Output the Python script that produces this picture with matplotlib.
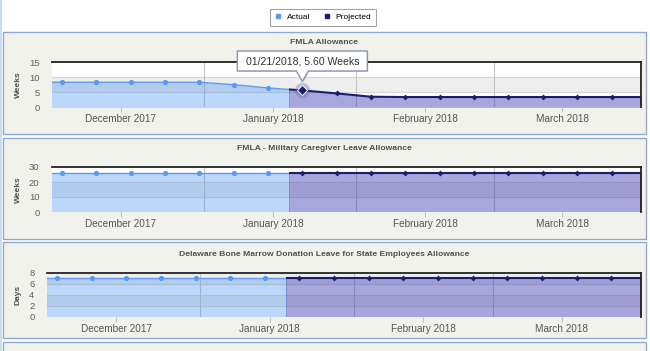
"""Leave allowance balances: actual vs projected, three stacked panels."""

import matplotlib

matplotlib.use("Agg")

import matplotlib.dates as mdates
import matplotlib.pyplot as plt
import numpy as np
import pandas as pd
from matplotlib.lines import Line2D
from matplotlib.patches import Polygon, Rectangle

plt.rcParams["font.family"] = ["Liberation Sans", "DejaVu Sans"]

W, H = 650, 351

# weekly balance snapshots (first and last fall just outside the visible window)
week_dates = [
    "2017-11-26", "2017-12-03", "2017-12-10", "2017-12-17", "2017-12-24",
    "2017-12-31", "2018-01-07", "2018-01-14", "2018-01-21", "2018-01-28",
    "2018-02-04", "2018-02-11", "2018-02-18", "2018-02-25", "2018-03-04",
    "2018-03-11", "2018-03-18", "2018-03-25", "2018-04-01",
]
fmla_weeks = [8.3, 8.3, 8.3, 8.3, 8.3, 8.3, 7.5, 6.4, 5.6, 4.6,
              3.5, 3.4, 3.4, 3.4, 3.4, 3.4, 3.4, 3.4, 3.4]
caregiver_weeks = [26, 26, 26, 26, 26, 26, 26, 26, 26, 26,
                   26, 26, 26, 26, 26, 26, 26, 26, 26]
bone_marrow_days = [7, 7, 7, 7, 7, 7, 7, 7, 7, 7,
                    7, 7, 7, 7, 7, 7, 7, 7, 7]

panel_titles = [
    "FMLA Allowance",
    "FMLA - Military Caregiver Leave Allowance",
    "Delaware Bone Marrow Donation Leave for State Employees Allowance",
]
y_units = ["Weeks", "Weeks", "Days"]
y_ticks = [[0, 5, 10, 15], [0, 10, 20, 30], [0, 2, 4, 6, 8]]

month_labels = ["December 2017", "January 2018", "February 2018", "March 2018"]
label_dates = ["2017-12-15", "2018-01-15", "2018-02-15", "2018-03-15"]
month_starts = ["2018-01-01", "2018-02-01", "2018-03-01"]
view_start, view_end = "2017-12-01", "2018-03-31"
split_date = "2018-01-18 06:00"   # actual -> projected
hover_date = "2018-01-21"
legend_labels = ["Actual", "Projected"]

# Colors
ACTUAL = "#5b9bef"
PROJ = "#1c1c6e"
PROJ_FILL = "#3d3db4"
PANEL_BG = "#f2f2ec"
PANEL_EDGE = "#8eaad0"
BAND = "#eeeeee"

# pixel boxes (x0, y0, x1, y1)
plot_boxes = [(52, 62, 641, 107.3), (52, 167, 641, 212), (47, 272.5, 641, 316.7)]
frame_boxes = [(3, 32, 646, 134), (3, 138, 646, 239), (3, 242, 646, 338), (3, 342, 646, 362)]
title_y = [43, 148, 254]


def px_axes(fig, box, **kw):
    x0, y0, x1, y1 = box
    return fig.add_axes([x0 / W, 1 - y1 / H, (x1 - x0) / W, (y1 - y0) / H], **kw)


fig = plt.figure(figsize=(W / 100, H / 100), dpi=100)

bg = fig.add_axes([0, 0, 1, 1])
bg.set_xlim(0, W)
bg.set_ylim(H, 0)
bg.axis("off")
bg.add_patch(Rectangle((0, 0), 2, H, facecolor="#c9dcf0", edgecolor="none"))
for x0, y0, x1, y1 in frame_boxes:
    bg.add_patch(Rectangle((x0, y0), x1 - x0, y1 - y0, facecolor=PANEL_BG,
                           edgecolor=PANEL_EDGE, linewidth=1))

x = mdates.date2num(pd.to_datetime(week_dates))
xmin = mdates.date2num(pd.Timestamp(view_start))
xmax = mdates.date2num(pd.Timestamp(view_end))
xsplit = mdates.date2num(pd.Timestamp(split_date))
xhover = mdates.date2num(pd.Timestamp(hover_date))
series = [fmla_weeks, caregiver_weeks, bone_marrow_days]

axes = []
for i, (vals, ticks) in enumerate(zip(series, y_ticks)):
    y = np.asarray(vals, dtype=float)
    ax = px_axes(fig, plot_boxes[i])
    ax.set_facecolor("white")
    ax.set_xlim(xmin, xmax)
    ax.set_ylim(ticks[0], ticks[-1])

    # alternating bands + grid
    for k, (lo, hi) in enumerate(zip(ticks[:-1], ticks[1:])):
        if k % 2 == 1:
            ax.axhspan(lo, hi, color=BAND, lw=0, zorder=0)
    for t in ticks[1:-1]:
        ax.axhline(t, color="#d6d6d6", lw=0.8, zorder=0.5)
    for d in month_starts:
        ax.axvline(mdates.date2num(pd.Timestamp(d)), color="#c4c4c4", lw=0.8, zorder=0.5)

    # a Rectangle clip path becomes the clip box, so keep it inside the view
    span = ticks[-1] - ticks[0]
    clip_a = Rectangle((xmin, ticks[0]), xsplit - xmin, span, transform=ax.transData)
    clip_p = Rectangle((xsplit, ticks[0]), xmax - xsplit, span, transform=ax.transData)

    fa = ax.fill_between(x, y, 0, color=ACTUAL, alpha=0.4, lw=0, zorder=1)
    fa.set_clip_path(clip_a)
    fp = ax.fill_between(x, y, 0, color=PROJ_FILL, alpha=0.45, lw=0, zorder=1)
    fp.set_clip_path(clip_p)
    la, = ax.plot(x, y, color=ACTUAL, lw=1.0, zorder=2)
    la.set_clip_path(clip_a)
    lp, = ax.plot(x, y, color=PROJ, lw=1.5, zorder=2)
    lp.set_clip_path(clip_p)

    past = x < xsplit
    ax.plot(x[past], y[past], "o", color=ACTUAL, ms=3.8, mew=0, zorder=3)
    ax.plot(x[~past], y[~past], "D", color=PROJ, ms=3.0, mew=0, zorder=3)

    for s in ("left", "bottom"):
        ax.spines[s].set_visible(False)
    for s in ("top", "right"):
        ax.spines[s].set_color("#222222")
        ax.spines[s].set_linewidth(1.3)
        ax.spines[s].set_zorder(4)

    ax.set_yticks(ticks)
    ax.tick_params(axis="y", length=0, pad=9, labelsize=6.8, labelcolor="#606060")
    ax.set_xticks(mdates.date2num(pd.to_datetime(label_dates)))
    ax.set_xticklabels(month_labels)
    ax.tick_params(axis="x", length=3.5, width=0.8, color="#c0c0c0", pad=1.5,
                   labelsize=7.2, labelcolor="#555555")

    x0, y0, x1, y1 = plot_boxes[i]
    fig.text(324.5 / W, 1 - title_y[i] / H, panel_titles[i], ha="center", va="center",
             fontsize=6.1, fontweight="bold", color="#505050")
    fig.text(18 / W, 1 - (y0 + y1) / 2 / H, y_units[i], rotation=90, ha="center",
             va="center", fontsize=6, fontweight="bold", color="#505050")
    axes.append(ax)

# hover state on the first panel
ax1 = axes[0]
yh = float(np.asarray(fmla_weeks)[np.isclose(x, xhover)][0])
ax1.plot([xhover], [yh], "o", color="#6a6aa8", alpha=0.35, ms=11, mew=0, zorder=3.5,
         clip_on=False)
ax1.plot([xhover], [yh], "D", color=PROJ, ms=5.5, mec="white", mew=0.6, zorder=4,
         clip_on=False)

ov = fig.add_axes([0, 0, 1, 1])
ov.set_xlim(0, W)
ov.set_ylim(H, 0)
ov.axis("off")
px, py = ov.transData.inverted().transform(ax1.transData.transform((xhover, yh)))
bw, top, bot = 130, 51, 71
tip = py - 9
shape = [(px - bw / 2, top), (px + bw / 2, top), (px + bw / 2, bot), (px + 6, bot),
         (px, tip), (px - 6, bot), (px - bw / 2, bot)]
ov.add_patch(Polygon([(a + 1, b + 1) for a, b in shape], closed=True,
                     facecolor="black", alpha=0.12, edgecolor="none"))
ov.add_patch(Polygon(shape, closed=True, facecolor="white", edgecolor="#8a96ad", lw=1))
ov.text(px, (top + bot) / 2 + 0.5, f"01/21/2018, {yh:.2f} Weeks", ha="center",
        va="center", fontsize=7.6, color="#333333")

handles = [
    Line2D([], [], ls="none", marker="s", ms=3.2, color=ACTUAL, label=legend_labels[0]),
    Line2D([], [], ls="none", marker="s", ms=3.2, color="#1c1c80", label=legend_labels[1]),
]
leg = fig.legend(handles=handles, loc="center", bbox_to_anchor=(323 / W, 1 - 17 / H),
                 ncol=2, fontsize=6, frameon=True, fancybox=False, handlelength=0.8,
                 handletextpad=0.6, columnspacing=1.6, borderpad=0.55)
leg.get_frame().set_edgecolor("#8c8c8c")
leg.get_frame().set_linewidth(0.8)

fig.savefig("out.png", dpi=100)
